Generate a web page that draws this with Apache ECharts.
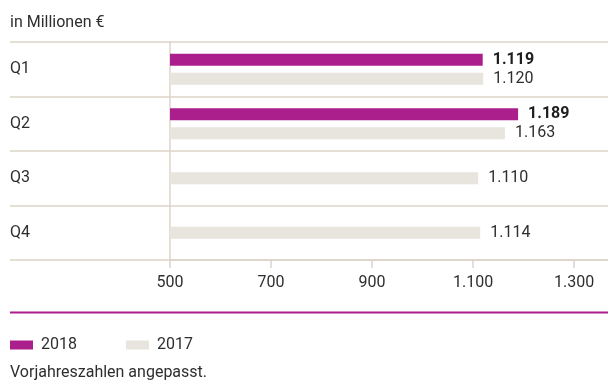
<!DOCTYPE html>
<html>
<head>
<meta charset="utf-8">
<script src="https://cdn.jsdelivr.net/npm/echarts@6/dist/echarts.min.js"></script>
<style>
  html, body { margin: 0; padding: 0; background: #fff; }
  #chart { width: 608px; height: 380px; }
</style>
</head>
<body>
<div id="chart"></div>
<script>
// Quarterly figures, in millions of euros
const categories = ['Q1', 'Q2', 'Q3', 'Q4'];
const values2018 = [1119, 1189, null, null];
const values2017 = [1120, 1163, 1110, 1114];
const xTicks = { min: 500, max: 1367, interval: 200 };

const MAGENTA = '#AB1F8D';
const SAND = '#E8E4DE';
const RULE = '#DCD4C7';
const TEXT = '#2E2E2E';
const FONT = 'Roboto, "Open Sans", sans-serif';
const SIZE = 16;

// German thousands separator
const fmt = v => String(v).replace(/\B(?=(\d{3})+(?!\d))/g, '.');

// Quarters with a 2018 value show the two bars side by side;
// quarters without one show the 2017 bar alone, centred in the row.
const paired2017 = values2017.map((v, i) => values2018[i] == null ? '-' : v);
const solo2017 = values2017.map((v, i) => values2018[i] == null ? v : '-');
const data2018 = values2018.map(v => v == null ? '-' : v);

const chart = echarts.init(document.getElementById('chart'), null, { renderer: 'canvas' });

const labelBase = {
  show: true,
  position: 'right',
  distance: 10,
  fontFamily: FONT,
  fontSize: SIZE,
  color: TEXT,
  formatter: p => fmt(p.value)
};

chart.setOption({
  animation: false,
  textStyle: { fontFamily: FONT },
  grid: { left: 170, right: 0, top: 42, bottom: 120, containLabel: false },
  xAxis: {
    type: 'value',
    min: xTicks.min,
    max: xTicks.max,
    interval: xTicks.interval,
    axisLine: { show: true, lineStyle: { color: RULE, width: 1.5 } },
    axisTick: { show: true, length: 8, lineStyle: { color: RULE, width: 1.5 } },
    splitLine: { show: false },
    axisLabel: {
      margin: 15,
      fontFamily: FONT,
      fontSize: SIZE,
      color: TEXT,
      showMaxLabel: false,
      formatter: v => fmt(v)
    }
  },
  yAxis: [
    {
      type: 'category',
      data: categories,
      inverse: true,
      axisLine: { show: true, lineStyle: { color: RULE, width: 1.5 } },
      axisTick: { show: true, length: 160, lineStyle: { color: RULE, width: 1.5 } },
      splitLine: { show: true, lineStyle: { color: RULE, width: 1.5 } },
      axisLabel: {
        margin: 160,
        align: 'left',
        fontFamily: FONT,
        fontSize: SIZE,
        color: TEXT
      }
    },
    {
      type: 'category',
      data: categories,
      inverse: true,
      show: false
    }
  ],
  legend: {
    left: 5,
    top: 332,
    itemWidth: 23,
    itemHeight: 9,
    itemGap: 49,
    icon: 'rect',
    textStyle: { fontFamily: FONT, fontSize: SIZE, color: TEXT, padding: [0, 0, 0, 3] },
    data: ['2018', '2017']
  },
  series: [
    {
      name: '2018',
      type: 'bar',
      yAxisIndex: 0,
      data: data2018,
      barWidth: 12,
      barGap: '58%',
      itemStyle: { color: MAGENTA },
      label: Object.assign({}, labelBase, { fontWeight: 'bold', color: '#1E1E1E' })
    },
    {
      name: '2017',
      type: 'bar',
      yAxisIndex: 0,
      data: paired2017,
      barWidth: 12,
      barGap: '58%',
      itemStyle: { color: SAND },
      label: labelBase
    },
    {
      name: '2017',
      type: 'bar',
      yAxisIndex: 1,
      data: solo2017,
      barWidth: 12,
      itemStyle: { color: SAND },
      label: labelBase
    }
  ],
  graphic: [
    {
      type: 'text',
      left: 10,
      top: 15,
      style: { text: 'in Millionen €', font: SIZE + 'px ' + FONT, fill: TEXT }
    },
    {
      type: 'line',
      shape: { x1: 10, y1: 312.5, x2: 608, y2: 312.5 },
      style: { stroke: MAGENTA, lineWidth: 2 }
    },
    {
      type: 'text',
      left: 10,
      top: 365,
      style: { text: 'Vorjahreszahlen angepasst.', font: SIZE + 'px ' + FONT, fill: TEXT }
    }
  ]
});
</script>
</body>
</html>
